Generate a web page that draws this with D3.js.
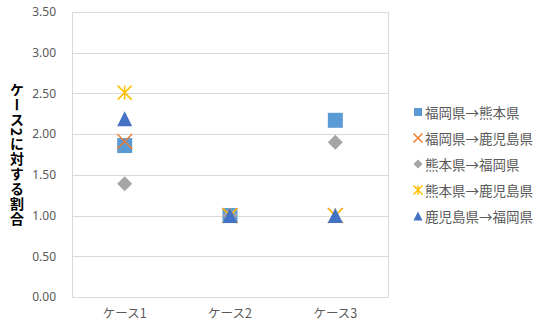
<!DOCTYPE html>
<html>
<head>
<meta charset="utf-8">
<script src="https://cdn.jsdelivr.net/npm/d3@7"></script>
<style>
  html, body { margin: 0; padding: 0; background: #fff; }
  svg { display: block; }
  text { font-family: "Noto Sans CJK JP", "Noto Sans", sans-serif; }
  .legend-label { font-family: "Noto Sans CJK JP", sans-serif; font-variant-east-asian: full-width; }
</style>
</head>
<body>
<svg id="chart" width="539" height="329"></svg>
<script>
// Categories along the x axis
const categories = ["ケース1", "ケース2", "ケース3"];
// Series names (legend) and their values per category
const seriesNames = ["福岡県→熊本県", "福岡県→鹿児島県", "熊本県→福岡県", "熊本県→鹿児島県", "鹿児島県→福岡県"];
const fukuokaKumamoto = [1.86, 1.00, 2.17];
const fukuokaKagoshima = [1.91, 1.00, 1.00];
const kumamotoFukuoka = [1.39, 1.00, 1.90];
const kumamotoKagoshima = [2.51, 1.00, 1.00];
const kagoshimaFukuoka = [2.19, 1.00, 1.00];
const yTicks = [0, 0.5, 1, 1.5, 2, 2.5, 3, 3.5];
const yTitle = "ケース2に対する割合";

const seriesValues = [fukuokaKumamoto, fukuokaKagoshima, kumamotoFukuoka, kumamotoKagoshima, kagoshimaFukuoka];
const markers = ["square", "x", "diamond", "asterisk", "triangle"];
const colors = ["#5B9BD5", "#ED7D31", "#A5A5A5", "#FFC000", "#4472C4"];

const svg = d3.select("#chart");
const plot = { left: 72, right: 388, top: 12, bottom: 297 };

const x = d3.scaleBand().domain(categories).range([plot.left, plot.right]);
const y = d3.scaleLinear().domain([0, 3.5]).range([plot.bottom, plot.top]);

// Gridlines
svg.append("g").selectAll("line").data(yTicks).join("line")
  .attr("x1", plot.left).attr("x2", plot.right)
  .attr("y1", d => Math.round(y(d)) + 0.5).attr("y2", d => Math.round(y(d)) + 0.5)
  .attr("stroke", "#D9D9D9").attr("stroke-width", 1);

// Plot area border
svg.append("rect")
  .attr("x", plot.left + 0.5).attr("y", plot.top + 0.5)
  .attr("width", plot.right - plot.left).attr("height", plot.bottom - plot.top)
  .attr("fill", "none").attr("stroke", "#D9D9D9");

// Y axis labels
const yAxis = d3.axisLeft(y).tickValues(yTicks).tickFormat(d3.format(".2f")).tickSize(0).tickPadding(16);
const gy = svg.append("g").attr("transform", `translate(${plot.left},0)`).call(yAxis);
gy.select(".domain").remove();
gy.selectAll("text").attr("fill", "#595959").style("font-size", "12px")
  .style("font-family", "'Noto Sans', sans-serif");

// X axis labels
const xAxis = d3.axisBottom(x).tickSize(0).tickPadding(12);
const gx = svg.append("g").attr("transform", `translate(0,${plot.bottom})`).call(xAxis);
gx.select(".domain").remove();
gx.selectAll("text").attr("fill", "#595959").style("font-size", "12.5px");

// Y axis title in vertical writing mode
svg.append("text")
  .attr("x", 17).attr("y", 83)
  .style("writing-mode", "vertical-rl")
  .style("text-orientation", "mixed")
  .style("letter-spacing", "0.9px")
  .attr("font-size", 14).attr("font-weight", "bold").attr("fill", "#000")
  .text(yTitle);

// Marker drawing
function drawMarker(g, type, color, size) {
  const h = size / 2;
  if (type === "square") {
    g.append("rect").attr("x", -h).attr("y", -h).attr("width", size).attr("height", size).attr("fill", color);
  } else if (type === "diamond") {
    g.append("path").attr("d", `M0,${-h}L${h},0L0,${h}L${-h},0Z`).attr("fill", color);
  } else if (type === "triangle") {
    g.append("path").attr("d", `M0,${-h}L${h},${h}L${-h},${h}Z`).attr("fill", color);
  } else if (type === "x") {
    g.append("path").attr("d", `M${-h},${-h}L${h},${h}M${h},${-h}L${-h},${h}`)
      .attr("stroke", color).attr("stroke-width", 1.5).attr("fill", "none");
  } else if (type === "asterisk") {
    g.append("path").attr("d", `M${-h},${-h}L${h},${h}M${h},${-h}L${-h},${h}M0,${-h}L0,${h}`)
      .attr("stroke", color).attr("stroke-width", 1.5).attr("fill", "none");
  }
}

// Series points
seriesValues.forEach((vals, si) => {
  const g = svg.append("g");
  vals.forEach((v, ci) => {
    const cx = x(categories[ci]) + x.bandwidth() / 2;
    const m = g.append("g").attr("transform", `translate(${cx},${y(v)})`);
    const size = markers[si] === "asterisk" ? 14 : 15;
    drawMarker(m, markers[si], colors[si], size);
  });
});

// Legend
const legend = svg.append("g");
seriesNames.forEach((name, i) => {
  const ly = 112 + i * 26;
  const m = legend.append("g").attr("transform", `translate(418,${ly})`);
  drawMarker(m, markers[i], colors[i], markers[i] === "square" ? 8 : 9);
  legend.append("text").attr("class", "legend-label").attr("x", 425).attr("y", ly)
    .attr("dominant-baseline", "central")
    .attr("font-size", 13.5).attr("fill", "#595959").text(name);
});
</script>
</body>
</html>
